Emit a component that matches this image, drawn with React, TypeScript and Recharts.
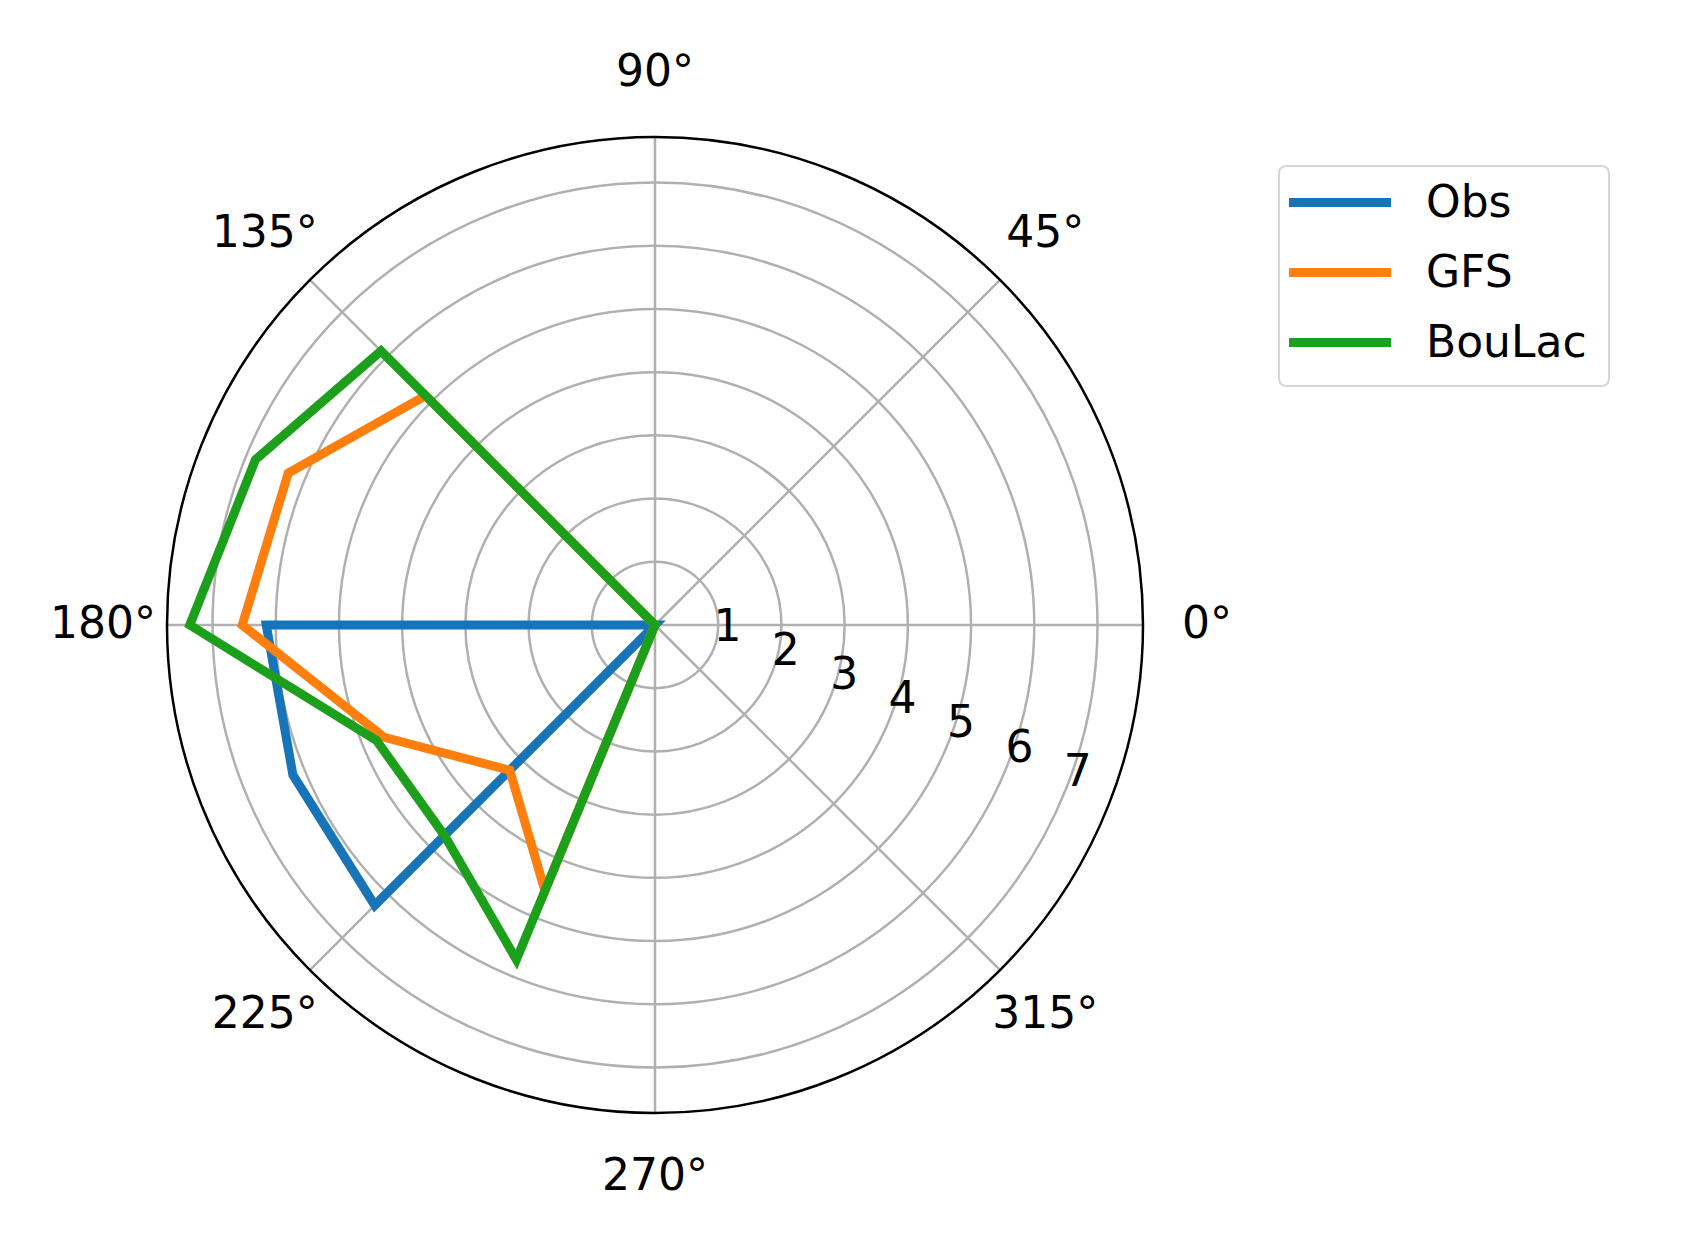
import React from 'react';
import { RadarChart, Radar, PolarGrid, PolarAngleAxis, PolarRadiusAxis, Legend } from 'recharts';

// wind direction bins, degrees
const directions = [0, 22.5, 45, 67.5, 90, 112.5, 135, 157.5, 180, 202.5, 225, 247.5, 270, 292.5, 315, 337.5];
const obsValues = [0, 0, 0, 0, 0, 0, 0, 0, 6.15, 6.2, 6.27, 0, 0, 0, 0, 0];
const gfsValues = [0, 0, 0, 0, 0, 0, 5.13, 6.28, 6.53, 4.64, 3.25, 4.55, 0, 0, 0, 0];
const boulacValues = [0, 0, 0, 0, 0, 0, 6.13, 6.84, 7.36, 4.77, 4.71, 5.73, 0, 0, 0, 0];
const radialTicks = [1, 2, 3, 4, 5, 6, 7];
const angleTicks = [0, 45, 90, 135, 180, 225, 270, 315];
const radialMax = 7.72;

const series = [
  { key: 'obs', name: 'Obs', color: '#1874b8' },
  { key: 'gfs', name: 'GFS', color: '#ff7f0e' },
  { key: 'boulac', name: 'BouLac', color: '#1ca01c' },
];

const data = directions.map((dir, i) => ({
  dir,
  obs: obsValues[i],
  gfs: gfsValues[i],
  boulac: boulacValues[i],
}));

const FONT = '"DejaVu Sans", sans-serif';

// linear radius scale pinned to [0, radialMax] (recharts otherwise rounds the polar domain up to 8)
function makeRadiusScale(max: number, initRange: number[] = [0, 1]): any {
  let range = initRange.slice();
  const scale: any = (v: number) => range[0] + (v / max) * (range[1] - range[0]);
  scale.domain = (d?: any) => (d === undefined ? [0, max] : scale);
  scale.range = (r?: number[]) => {
    if (r === undefined) return range.slice();
    range = r.slice();
    return scale;
  };
  scale.copy = () => makeRadiusScale(max, range);
  scale.ticks = () => radialTicks;
  return scale;
}

const AngleTick = (props: any) => {
  const { x, y, payload } = props;
  return (
    <text x={x} y={y - 3} textAnchor="middle" dominantBaseline="central" fontSize={44} fontFamily={FONT} fill="#000">
      {`${payload.value}°`}
    </text>
  );
};

const RadiusTick = (props: any) => {
  const { x, y, payload } = props;
  return (
    <text x={x + 14} y={y - 24} textAnchor="middle" dominantBaseline="central" fontSize={44} fontFamily={FONT} fill="#000">
      {payload.value}
    </text>
  );
};

const LegendBox = () => (
  <div
    style={{
      width: 328,
      height: 218,
      border: '2px solid #d6d6d6',
      borderRadius: 8,
      background: '#fff',
      fontFamily: FONT,
      fontSize: 44,
      position: 'relative',
    }}
  >
    {series.map((s, i) => (
      <div key={s.key} style={{ position: 'absolute', left: 0, top: i * 70, height: 70, width: '100%' }}>
        <div style={{ position: 'absolute', left: 9, top: 31, width: 102, height: 9, background: s.color }} />
        <div style={{ position: 'absolute', left: 146, top: 0, height: 70, lineHeight: '70px', color: '#000' }}>
          {s.name}
        </div>
      </div>
    ))}
  </div>
);

export default function App() {
  return (
    <div style={{ position: 'absolute', left: 0, top: 0, width: 1693, height: 1251, background: '#fff' }}>
      <RadarChart
        width={1693}
        height={1251}
        data={data}
        cx={655}
        cy={625}
        outerRadius={488}
        startAngle={0}
        endAngle={360}
        margin={{ top: 0, right: 0, bottom: 0, left: 0 }}
      >
        <PolarGrid gridType="circle" polarAngles={angleTicks} stroke="#b0b0b0" strokeWidth={2.5} />
        <PolarRadiusAxis
          angle={-22.5}
          type="number"
          domain={[0, radialMax]}
          allowDataOverflow
          scale={makeRadiusScale(radialMax)}
          ticks={radialTicks}
          axisLine={false}
          tickLine={false}
          tick={RadiusTick}
        />
        {series.map((s) => (
          <Radar
            key={s.key}
            name={s.name}
            dataKey={s.key}
            stroke={s.color}
            strokeWidth={9}
            strokeLinejoin="miter"
            fill="none"
            fillOpacity={0}
            dot={false}
            activeDot={false}
            isAnimationActive={false}
          />
        ))}
        <PolarAngleAxis
          dataKey="dir"
          type="number"
          domain={[0, 360]}
          ticks={angleTicks}
          axisLineType="circle"
          axisLine={{ stroke: '#000', strokeWidth: 2.5 }}
          tickLine={false}
          tickSize={64}
          tick={AngleTick}
        />
        <Legend
          content={LegendBox}
          wrapperStyle={{ position: 'absolute', left: 1278, top: 165, width: 332, height: 222 }}
        />
      </RadarChart>
    </div>
  );
}
